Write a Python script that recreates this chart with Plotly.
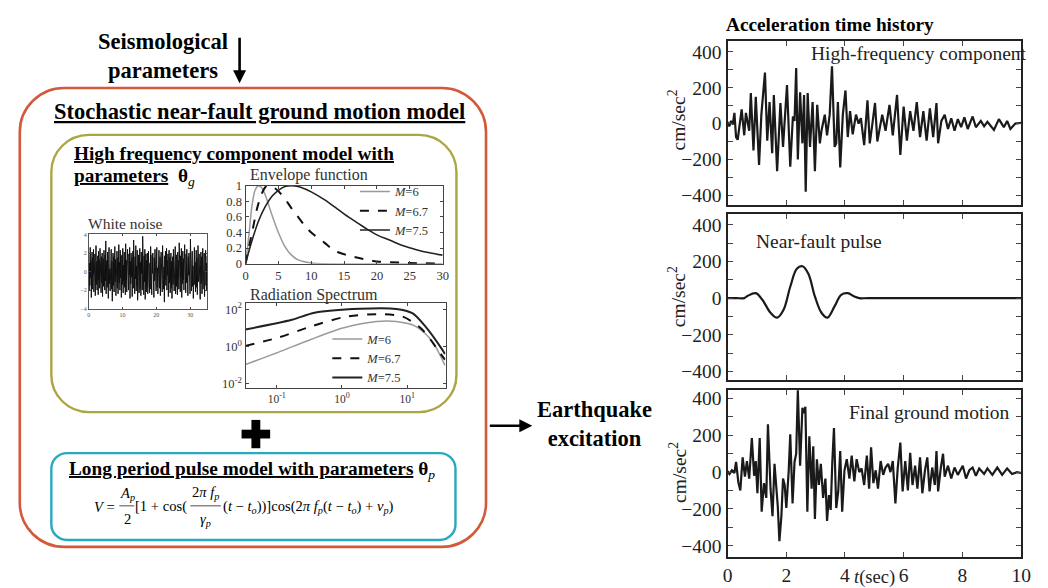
import plotly.graph_objects as go
import numpy as np

W, H = 1048, 588
SERIF = "Liberation Serif, Times New Roman, serif"


def X(p):
    return p / W


def Y(p):
    return 1 - p / H


# ---------------- data ----------------
# white noise (hand read amplitudes, 0..35 s)
wn_part1 = [1.8, -2.1, 0.9, -1.5, 2.6, -0.7, 1.2, -2.8, 0.4, 2.1, -1.9, 1.5, -0.3, 2.4, -2.2, 0.8,
            -1.1, 1.9, -2.6, 0.6, 2.8, -1.4, 1.1, -2.0, 0.2, 1.7, -2.5, 2.2, -0.9, 1.3, -1.8, 2.5,
            -0.5, 0.9, -2.3, 1.6, -1.2, 2.0, -2.7, 0.7, 1.4, -1.6, 2.3, -0.4, -2.0, 1.8, -1.0, 3.3,
            -2.4, 0.5, 1.2, -1.7, 2.1, -0.8, -2.9, 1.0, 2.6, -1.3, 0.3, -2.1, 1.9, -0.6, 2.4, -1.9,
            1.1, -3.2, 0.8, 2.0, -1.5, 1.6, -2.2, 0.4, 2.7, -1.1, 1.3, -2.6, 0.9, -0.3, 2.2, -1.8,
            1.5, -2.4, 0.6, 2.9, -1.2, 1.0, -2.0, 2.3, -0.7, 1.7, -2.8, 0.2, 1.8, -1.4, 2.5, -2.3,
            0.7, -1.0, 2.1, -1.7, 1.4, -2.5, 3.0, -0.9, 1.2, -2.2, 0.5, 2.4, -1.6, 0.8, -2.0, 1.9,
            -0.4, 2.6, -2.9, 1.1, -1.3, 2.0, -0.6, 1.5, -2.7, 0.3, 2.2, -1.8, 3.4, -1.0, 0.9, -2.4,
            1.6, -0.8, 2.8, -2.1, 0.6, -1.5, 2.3, -3.1, 1.3, -0.5, 1.8, -2.3, 0.7, 2.5, -1.9, 1.0,
            -2.6, 2.1, -0.2, 1.4, -2.0, 3.8, -1.2, 0.8, -2.5, 1.7, -1.1, 2.4, -3.0, 0.5, 1.9, -2.2,
            1.2, -1.7, 2.0, -2.4]
wn_part2 = [-1.4, 2.2, -0.6, 1.7, -2.3, 0.9, -1.9, 2.7, -0.8, 1.1, -2.5, 1.8, -0.2, 2.0, -1.6, 0.7,
            -2.8, 1.5, -1.0, 2.4, -0.5, 1.3, -2.1, 0.8, 2.6, -1.7, 0.4, -2.4, 1.9, -1.1, 2.3, -0.3,
            -1.8, 1.6, -2.6, 0.9, 2.1, -1.3, 1.0, -2.2, 2.8, -0.7, 1.4, -1.9, 0.5, -3.3, 1.7, -0.9,
            2.2, -1.5, 0.6, 2.5, -2.0, 1.2, -0.4, 1.9, -2.7, 0.8, 2.3, -1.2, 1.5, -2.3, 0.3, 2.0,
            -1.8, 1.1, -2.9, 0.7, 1.6, -1.4, 2.4, -0.6, -2.1, 1.3, -1.0, 2.7, -2.4, 0.9, 1.8, -1.6,
            0.4, -2.5, 2.1, -0.8, 1.2, -1.9, 3.1, -1.1, 0.6, -2.2, 1.7, -0.5, 2.5, -2.8, 1.0, -1.3,
            2.2, -0.9, 1.4, -2.0, 0.8, 2.9, -1.5, 0.3, -2.3, 1.9, -1.2, 2.4, -0.7, 1.1, -2.6, 1.6,
            -0.4, 2.0, -1.8, 0.5, -2.4, 3.5, -1.0, 1.3, -2.1, 0.9, 2.2, -1.6, 0.6, -2.9, 1.8, -0.8,
            2.6, -1.4, 1.0, -2.2, 0.4, 2.3, -1.7, 1.5, -2.5, 0.7, 2.8, -1.1, -0.5, 1.9, -2.0, 1.2,
            -3.0, 0.8, 2.1, -1.3, 1.6, -2.4, 0.3, 2.5, -1.9, 1.1, -0.6, 2.0, -2.7, 1.4, -1.0, 2.3,
            -1.5, 0.9, -2.1, 1.7]
wn_vals = wn_part1 + wn_part2
wn_time = np.linspace(0, 35, len(wn_vals))

# envelope functions
env6_t = [0, 0.5, 1, 1.5, 2, 2.5, 3, 4, 5, 6, 7, 8, 10, 12, 30]
env6_v = [0, 0.35, 0.75, 0.95, 1.0, 0.97, 0.88, 0.63, 0.40, 0.22, 0.11, 0.05, 0.01, 0, 0]
env67_t = [0, 1, 2, 3, 3.5, 4, 5, 6, 7, 8, 9, 10, 12, 13, 14, 16, 18, 20, 22, 25, 30]
env67_v = [0, 0.40, 0.78, 0.98, 1.0, 0.99, 0.93, 0.83, 0.71, 0.60, 0.49, 0.40, 0.27, 0.20, 0.15,
           0.10, 0.06, 0.03, 0.02, 0.01, 0]
env75_t = [0, 1, 2, 3, 4, 5, 6, 7, 8, 9, 10, 12, 14, 16, 18, 20, 22, 24, 26, 28, 30]
env75_v = [0, 0.30, 0.55, 0.73, 0.86, 0.94, 0.99, 1.0, 0.99, 0.96, 0.92, 0.82, 0.70, 0.58, 0.47,
           0.37, 0.30, 0.23, 0.18, 0.14, 0.11]
env_names = ["<i>M</i>=6", "<i>M</i>=6.7", "<i>M</i>=7.5"]

# radiation spectrum
rad6_f = [0.033, 0.107, 0.34, 1.07, 3.4, 6.8, 13.5, 24, 38]
rad6_a = [0.11, 0.51, 2.5, 10.2, 22, 22, 12.3, 2.0, 0.1]
rad67_f = [0.033, 0.107, 0.34, 1.07, 3.4, 8.5, 17, 30, 38]
rad67_a = [1.1, 3.1, 12.3, 38, 55, 41, 8.3, 0.62, 0.2]
rad75_f = [0.033, 0.17, 0.38, 1.9, 6.8, 12, 19, 34, 38]
rad75_a = [8.3, 27.5, 66, 107, 105, 62, 12.3, 0.76, 0.4]

# high-frequency component (cm/s^2)
hf_t = [0, 0.06, 0.12, 0.18, 0.235, 0.291, 0.347, 0.481, 0.570, 0.626,
        0.738, 0.794, 0.884, 0.962, 1.074, 1.152, 1.275, 1.353, 1.432, 1.521,
        1.577, 1.689, 1.801, 1.890, 2.025, 2.136, 2.226, 2.282, 2.338, 2.394,
        2.472, 2.550, 2.606, 2.662, 2.729, 2.808, 2.897, 2.975, 3.054, 3.143,
        3.199, 3.311, 3.389, 3.479, 3.557, 3.647, 3.702, 3.758, 3.837, 3.926,
        4.016, 4.094, 4.172, 4.262, 4.374, 4.463, 4.541, 4.653, 4.765, 4.843,
        4.933, 5.022, 5.101, 5.268, 5.380, 5.514, 5.627, 5.772, 5.884, 5.996,
        6.107, 6.219, 6.331, 6.443, 6.555, 6.667, 6.779, 6.890, 7.002, 7.114,
        7.170, 7.282, 7.394, 7.506, 7.617, 7.729, 7.841, 7.953, 8.065, 8.177,
        8.345, 8.456, 8.624, 8.736, 8.848, 9.071, 9.239, 9.407, 9.519, 9.631,
        9.799, 10.0]
hf_v = [10, -15, 15, -5, 60, -75, -90, 80, -65, 60,
        -40, 170, -150, 150, -230, 50, 285, -95, 120, -165,
        160, -265, 115, -130, 215, -240, 40, 15, 310, -200,
        175, -110, 160, -380, 170, -130, 120, -265, 105, -110,
        -40, 50, -65, 50, 320, -130, -110, 120, -245, 50,
        185, -75, 70, -60, 50, 0, 30, -120, 130, -110,
        0, 115, -100, 50, -40, 105, -65, 160, -175, 95,
        -95, 70, -40, 120, -75, 70, -95, 85, -75, 115,
        -110, 15, 50, -30, 30, -40, 25, -20, 35, -30,
        40, -20, 15, -15, 10, -35, 25, -20, 15, -30,
        0, 5]

# near-fault pulse
pulse_t = [0, 0.3, 0.57, 0.682, 0.962, 1.186, 1.465, 1.689, 1.913, 2.136, 2.360, 2.550,
           2.752, 2.975, 3.199, 3.400, 3.647, 3.870, 4.094, 4.318, 4.486, 4.8, 10.0]
pulse_v = [0, 0, 0, 12, 27, -9, -80, -107, -62, 62, 160, 174,
           133, 9, -80, -107, -44, 18, 27, 9, 0, 0, 0]

# final ground motion
fin_t = [0, 0.067, 0.15, 0.235, 0.291, 0.369, 0.436, 0.515, 0.593, 0.660,
         0.738, 0.828, 0.906, 0.962, 1.018, 1.096, 1.163, 1.242, 1.320, 1.376,
         1.465, 1.532, 1.600, 1.667, 1.711, 1.767, 1.834, 1.890, 1.946, 2.002,
         2.081, 2.136, 2.215, 2.282, 2.338, 2.394, 2.472, 2.550, 2.606, 2.651,
         2.718, 2.785, 2.864, 2.919, 2.975, 3.043, 3.110, 3.177, 3.255, 3.333,
         3.389, 3.456, 3.512, 3.568, 3.624, 3.702, 3.770, 3.837, 3.904, 3.982,
         4.060, 4.150, 4.228, 4.318, 4.396, 4.486, 4.564, 4.653, 4.743, 4.821,
         4.888, 4.966, 5.045, 5.123, 5.213, 5.302, 5.380, 5.470, 5.548, 5.627,
         5.716, 5.794, 5.884, 5.962, 6.051, 6.141, 6.219, 6.298, 6.387, 6.465,
         6.555, 6.633, 6.723, 6.801, 6.879, 6.969, 7.058, 7.114, 7.170, 7.259,
         7.338, 7.394, 7.506, 7.617, 7.729, 7.841, 8.009, 8.121, 8.233, 8.345,
         8.456, 8.568, 8.736, 8.848, 9.016, 9.184, 9.351, 9.519, 9.687, 9.855,
         10.0]
fin_v = [5, -10, 10, -5, 55, -55, -100, 80, -25, 60,
         -35, 185, -20, 60, -115, 185, -215, -60, -140, 260,
         -90, -240, 45, -70, -185, -375, -240, -35, -70, -195,
         0, 205, -170, 55, 100, 445, 35, 350, 320, 355,
         -215, 195, -90, 140, -255, 70, -70, 45, -140, -35,
         -265, -125, -205, 55, 240, -195, -105, 115, -215, 10,
         70, -35, 90, -50, 70, 0, 20, -70, 90, -90,
         135, -60, 10, -90, 60, -15, 25, 45, 0, 60,
         -170, 20, 160, -105, 60, -100, 105, -70, 35, -90,
         80, -115, 10, 80, -105, 25, -70, 115, -105, 20,
         100, -25, 35, -35, 25, -15, 35, -35, 10, 25,
         -20, 20, -10, 20, -15, 25, -15, 20, -10, 0,
         -5]

acc_ticks = [-400, -300, -200, -100, 0, 100, 200, 300, 400]
acc_labels = ["\u2212400", "", "\u2212200", "", "0", "", "200", "", "400"]
time_ticks = [0, 2, 4, 6, 8, 10]

assert len(hf_t) == len(hf_v) and len(fin_t) == len(fin_v) and len(pulse_t) == len(pulse_v)

# ---------------- figure ----------------
fig = go.Figure()

fig.add_trace(go.Scatter(x=wn_time, y=wn_vals, mode="lines", line=dict(color="#111", width=1.0),
                         xaxis="x", yaxis="y", showlegend=False))

env_styles = [dict(color="#9a9a9a", width=1.5), dict(color="#111", width=2, dash="dash"),
              dict(color="#222", width=1.6)]
for (tt, vv), nm, st in zip([(env6_t, env6_v), (env67_t, env67_v), (env75_t, env75_v)], env_names, env_styles):
    fig.add_trace(go.Scatter(x=tt, y=vv, mode="lines", line=dict(shape="spline", **st), name=nm,
                             xaxis="x2", yaxis="y2", legend="legend"))
rad_styles = [dict(color="#9a9a9a", width=1.5), dict(color="#111", width=2, dash="dash"),
              dict(color="#222", width=2)]
for (ff, aa), nm, st in zip([(rad6_f, rad6_a), (rad67_f, rad67_a), (rad75_f, rad75_a)], env_names, rad_styles):
    fig.add_trace(go.Scatter(x=ff, y=aa, mode="lines", line=dict(shape="spline", smoothing=0.8, **st), name=nm,
                             xaxis="x3", yaxis="y3", legend="legend2"))

fig.add_trace(go.Scatter(x=hf_t, y=hf_v, mode="lines", line=dict(color="#1a1a1a", width=2.2),
                         xaxis="x4", yaxis="y4", showlegend=False))
fig.add_trace(go.Scatter(x=pulse_t, y=pulse_v, mode="lines", line=dict(color="#1a1a1a", width=2.2, shape="spline"),
                         xaxis="x5", yaxis="y5", showlegend=False))
fig.add_trace(go.Scatter(x=fin_t, y=fin_v, mode="lines", line=dict(color="#1a1a1a", width=2.2),
                         xaxis="x6", yaxis="y6", showlegend=False))

base = dict(showgrid=False, zeroline=False, showline=True, mirror="ticks", ticks="inside")
small_font = dict(family=SERIF, size=12.5, color="#333")

layout_axes = dict(
    xaxis=dict(base, domain=[X(85), X(205)], range=[0, 35], tickvals=[0, 10, 20, 30], ticklen=2,
               tickfont=dict(family=SERIF, size=6, color="#555"), linecolor="#555", linewidth=0.8, anchor="y"),
    yaxis=dict(base, domain=[Y(309), Y(233)], range=[-4, 4], tickvals=[-4, -2, 0, 2, 4], ticklen=2,
               tickfont=dict(family=SERIF, size=6, color="#555"), linecolor="#555", linewidth=0.8, anchor="x"),
    xaxis2=dict(base, domain=[X(244), X(444)], range=[0, 30], tickvals=[0, 5, 10, 15, 20, 25, 30], ticklen=3,
                tickfont=small_font, linecolor="#444", linewidth=1.2, anchor="y2"),
    yaxis2=dict(base, domain=[Y(263), Y(183)], range=[0, 1], tickvals=[0, 0.2, 0.4, 0.6, 0.8, 1],
                ticktext=["0", "0.2", "0.4", "0.6", "0.8", "1"], ticklen=3,
                tickfont=small_font, linecolor="#444", linewidth=1.2, anchor="x2"),
    xaxis3=dict(base, domain=[X(244), X(447)], type="log", range=[-1.48, 1.59], tickvals=[0.1, 1, 10],
                ticktext=["10<sup>-1</sup>", "10<sup>0</sup>", "10<sup>1</sup>"], ticklen=3,
                tickfont=dict(family=SERIF, size=11.5, color="#333"), linecolor="#444", linewidth=1.2, anchor="y3"),
    yaxis3=dict(base, domain=[Y(390), Y(303)], type="log", range=[-2.2, 2.35], tickvals=[0.01, 1, 100],
                ticktext=["10<sup>-2</sup>", "10<sup>0</sup>", "10<sup>2</sup>"], ticklen=3,
                tickfont=dict(family=SERIF, size=12.5, color="#333"), linecolor="#444", linewidth=1.2, anchor="x3"),
)

big_tick = dict(family=SERIF, size=19.5, color="#222")
acc_panels = [(4, 35, 203, [-455, 460]), (5, 212, 382, [-447, 460]), (6, 392, 563, [-459, 448])]
for k, top, bot, rng in acc_panels:
    layout_axes[f"xaxis{k}"] = dict(base, domain=[X(733), X(1031)], range=[0, 10], tickvals=time_ticks,
                                    showticklabels=(k == 6), ticklen=5, tickfont=big_tick,
                                    linecolor="#222", linewidth=2, anchor=f"y{k}")
    layout_axes[f"yaxis{k}"] = dict(base, domain=[Y(bot), Y(top)], range=rng, tickvals=acc_ticks,
                                    ticktext=acc_labels, ticklen=5, tickfont=big_tick,
                                    linecolor="#222", linewidth=2, anchor=f"x{k}")


def rrect(x0, y0, x1, y1, r):
    k = 0.5523 * r

    def p(a, b):
        return f"{X(a):.5f},{Y(b):.5f}"
    return (f"M {p(x0 + r, y0)} L {p(x1 - r, y0)} C {p(x1 - r + k, y0)} {p(x1, y0 + r - k)} {p(x1, y0 + r)} "
            f"L {p(x1, y1 - r)} C {p(x1, y1 - r + k)} {p(x1 - r + k, y1)} {p(x1 - r, y1)} "
            f"L {p(x0 + r, y1)} C {p(x0 + r - k, y1)} {p(x0, y1 - r + k)} {p(x0, y1 - r)} "
            f"L {p(x0, y0 + r)} C {p(x0, y0 + r - k)} {p(x0 + r - k, y0)} {p(x0 + r, y0)} Z")


shapes = [
    dict(type="path", xref="paper", yref="paper", path=rrect(15, 83, 488, 553, 45),
         line=dict(color="#d2593b", width=2.6)),
    dict(type="path", xref="paper", yref="paper", path=rrect(47, 131, 458, 415, 38),
         line=dict(color="#aca544", width=2.4)),
    dict(type="path", xref="paper", yref="paper", path=rrect(47, 457, 457, 546, 16),
         line=dict(color="#2aa9bd", width=2.4)),
    # plus sign
    dict(type="rect", xref="paper", yref="paper", x0=X(240), x1=X(269), y0=Y(442), y1=Y(433),
         fillcolor="#000", line=dict(width=0)),
    dict(type="rect", xref="paper", yref="paper", x0=X(250), x1=X(259), y0=Y(452), y1=Y(423),
         fillcolor="#000", line=dict(width=0)),
    # fraction bars
    dict(type="line", xref="paper", yref="paper", x0=X(116), x1=X(131), y0=Y(511), y1=Y(511),
         line=dict(color="#222", width=0.8)),
    dict(type="line", xref="paper", yref="paper", x0=X(188), x1=X(219), y0=Y(511), y1=Y(511),
         line=dict(color="#222", width=0.8)),
]


def ann(text, x, y, size, xanchor="center", color="#000", **kw):
    return dict(text=text, x=X(x), y=Y(y), xref="paper", yref="paper", showarrow=False,
                xanchor=xanchor, yanchor="middle", font=dict(family=SERIF, size=size, color=color), **kw)


F = 14.6
annotations = [
    ann("<b>Seismological<br>parameters</b>", 160, 50, 22.5),
    ann("<b><u>Stochastic near-fault ground motion model</u></b>", 258, 107, 22.5),
    ann("<b><u>High frequency component model with</u></b>", 68, 150, 19.3, xanchor="left"),
    ann("<b><u>parameters</u>  θ</b><sub><i>g</i></sub>", 68, 174, 19.3, xanchor="left"),
    ann("Envelope function", 308, 172, 16, color="#333"),
    ann("White noise", 122, 222, 15.5, color="#333"),
    ann("Radiation Spectrum", 313, 295, 16, color="#333"),
    ann("<b><u>Long period pulse model with parameters</u> θ</b><sub><i>p</i></sub>", 63, 474, 19.3, xanchor="left"),
    ann("<i>V</i> =", 114, 512, F, xanchor="right"),
    ann("<i>A</i><sub><i>p</i></sub>", 124, 499, F),
    ann("2", 124, 524, F),
    ann("[1 + cos(", 130, 512, F, xanchor="left"),
    ann("2<i>π f</i><sub><i>p</i></sub>", 203, 498, F),
    ann("<i>γ</i><sub><i>p</i></sub>", 203, 525, F),
    ann("(<i>t</i> − <i>t</i><sub><i>o</i></sub>))]cos(2<i>π f</i><sub><i>p</i></sub>(<i>t</i> − <i>t</i><sub><i>o</i></sub>) + <i>ν</i><sub><i>p</i></sub>)",
        219, 512, F, xanchor="left"),
    ann("<b>Earthquake<br>excitation</b>", 598, 427, 22.5),
    ann("<b>Acceleration time history</b>", 837, 18, 19.3),
    ann("High-frequency component", 1039, 48, 19.5, xanchor="right", color="#222"),
    ann("Near-fault pulse", 760, 240, 19.5, xanchor="left", color="#222"),
    ann("Final ground motion", 854, 415, 19.5, xanchor="left", color="#222"),
    ann("<i>t</i>(sec)", 882, 584, 18.5, color="#222"),
]
for yc in [116, 297, 477]:
    annotations.append(ann("cm/sec<sup>2</sup>", 682, yc, 19.5, color="#222", textangle=-90))

# arrows
annotations.append(dict(x=X(238), y=Y(78), xref="paper", yref="paper", ax=0, ay=-47, axref="pixel", ayref="pixel",
                        showarrow=True, arrowhead=2, arrowsize=1, arrowwidth=2.6, arrowcolor="#000", text=""))
annotations.append(dict(x=X(535), y=Y(429), xref="paper", yref="paper", ax=-44, ay=0, axref="pixel", ayref="pixel",
                        showarrow=True, arrowhead=2, arrowsize=1, arrowwidth=2.6, arrowcolor="#000", text=""))

leg_common = dict(xanchor="left", yanchor="top", bgcolor="rgba(0,0,0,0)", borderwidth=0,
                  font=dict(family=SERIF, size=12.5, color="#333"), tracegroupgap=0, itemwidth=30)

fig.update_layout(
    width=W, height=H, margin=dict(l=0, r=0, t=0, b=0),
    paper_bgcolor="white", plot_bgcolor="white",
    font=dict(family=SERIF, color="#222"),
    shapes=shapes, annotations=annotations,
    showlegend=True,
    legend=dict(leg_common, x=X(355), y=Y(174)),
    legend2=dict(leg_common, x=X(327), y=Y(325)),
    **layout_axes,
)

fig.write_html("out.html")
